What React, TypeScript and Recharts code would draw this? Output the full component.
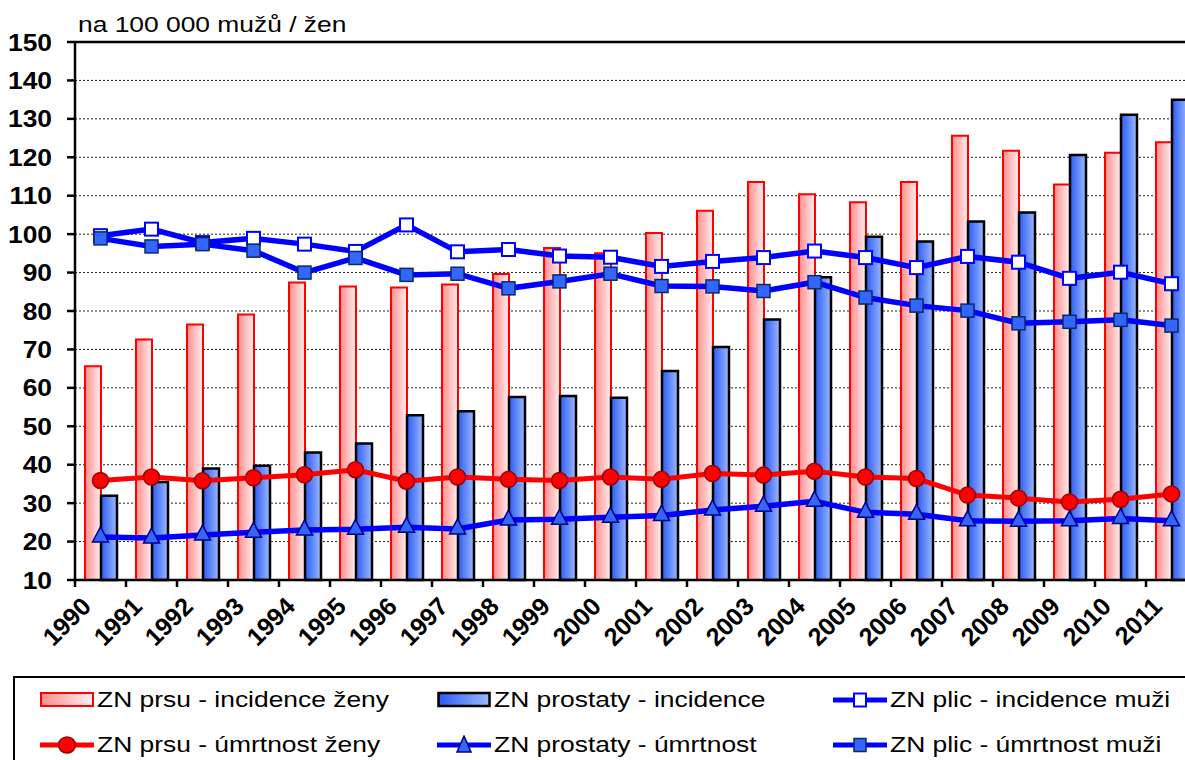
import React from "react";
import { ComposedChart, Bar, Line, XAxis, YAxis, CartesianGrid, Legend, ReferenceLine } from "recharts";

const years = ["1990", "1991", "1992", "1993", "1994", "1995", "1996", "1997", "1998", "1999", "2000", "2001", "2002", "2003", "2004", "2005", "2006", "2007", "2008", "2009", "2010", "2011"];
const prsuIncidence = [65.6, 72.6, 76.5, 79.1, 87.4, 86.4, 86.1, 86.9, 89.6, 96.4, 95.0, 100.3, 106.1, 113.6, 110.4, 108.3, 113.6, 125.6, 121.7, 112.9, 121.2, 123.9];
const prostataIncidence = [31.9, 35.5, 39.0, 39.7, 43.2, 45.5, 52.9, 53.9, 57.6, 57.9, 57.4, 64.4, 70.6, 77.8, 88.8, 99.3, 98.1, 103.3, 105.6, 120.6, 131.1, 135.0];
const plicIncidence = [99.6, 101.3, 97.8, 98.9, 97.4, 95.5, 102.4, 95.4, 96.0, 94.3, 94.0, 91.6, 92.9, 93.9, 95.6, 93.9, 91.3, 94.2, 92.7, 88.5, 90.1, 87.1];
const prsuMortality = [35.9, 36.8, 35.8, 36.6, 37.4, 38.7, 35.7, 36.8, 36.2, 35.9, 36.8, 36.2, 37.7, 37.3, 38.3, 36.8, 36.4, 32.1, 31.3, 30.3, 31.0, 32.4];
const prostataMortality = [21.2, 20.9, 21.7, 22.4, 23.0, 23.2, 23.7, 23.3, 25.6, 25.8, 26.3, 26.8, 28.2, 29.2, 30.5, 27.6, 27.1, 25.4, 25.3, 25.4, 26.0, 25.4];
const plicMortality = [98.9, 96.8, 97.4, 95.7, 90.0, 93.8, 89.4, 89.7, 85.9, 87.7, 89.7, 86.5, 86.4, 85.2, 87.5, 83.5, 81.4, 80.1, 76.8, 77.2, 77.7, 76.2];
const yTicks = [10, 20, 30, 40, 50, 60, 70, 80, 90, 100, 110, 120, 130, 140, 150];

const data = years.map((year, i) => ({
  year,
  prsuInc: prsuIncidence[i],
  prostataInc: prostataIncidence[i],
  plicInc: plicIncidence[i],
  prsuMort: prsuMortality[i],
  prostataMort: prostataMortality[i],
  plicMort: plicMortality[i],
}));

const FONT = "'Liberation Sans', Arial, sans-serif";
const BLUE = "#0000FF";
const RED = "#FF0000";

const WhiteSquare = (p: any) => {
  if (p.cx == null || p.cy == null) return <g key={p.key} />;
  return <rect key={p.key} x={p.cx - 6.5} y={p.cy - 6.5} width={13} height={13} fill="#fff" stroke={BLUE} strokeWidth={2} />;
};
const BlueSquare = (p: any) => {
  if (p.cx == null || p.cy == null) return <g key={p.key} />;
  return <rect key={p.key} x={p.cx - 6.5} y={p.cy - 6.5} width={13} height={13} fill="#3366FF" stroke="#0A2A66" strokeWidth={1.5} />;
};
const RedCircle = (p: any) => {
  if (p.cx == null || p.cy == null) return <g key={p.key} />;
  return <circle key={p.key} cx={p.cx} cy={p.cy} r={8} fill={RED} stroke="#990000" strokeWidth={1.5} />;
};
const BlueTriangle = (p: any) => {
  if (p.cx == null || p.cy == null) return <g key={p.key} />;
  const pts = `${p.cx},${p.cy - 10} ${p.cx - 8},${p.cy + 5} ${p.cx + 8},${p.cy + 5}`;
  return <polygon key={p.key} points={pts} fill="#3366FF" stroke="#000080" strokeWidth={1.5} />;
};

const YTick = (p: any) => {
  const { x, y, payload } = p;
  return (
    <text x={x} y={y} dy="0.355em" textAnchor="end" fontFamily={FONT} fontWeight="bold" fontSize={24} fill="#000"
      transform={`translate(${x},0) scale(1.1,1) translate(${-x},0)`}>
      {payload.value}
    </text>
  );
};

// year label plus the Excel-style tick mark on the category boundary
const XTick = (p: any) => {
  const { x, y, payload, index } = p;
  const half = payload.offset || 0;
  return (
    <g>
      {index === 0 && <line x1={x - half} x2={x - half} y1={y} y2={y + 7} stroke="#000" strokeWidth={2.5} />}
      <line x1={x + half} x2={x + half} y1={y} y2={y + 7} stroke="#000" strokeWidth={2.5} />
      <g transform={`translate(${x - 8},${y + 28})`}>
        <text textAnchor="end" transform="rotate(-45)" fontFamily={FONT} fontWeight="bold" fontSize={25} fill="#000">
          {payload.value}
        </text>
      </g>
    </g>
  );
};

const Title = (p: any) => {
  const vb = p.viewBox || { x: 0, y: 42, width: 75 };
  const x = vb.x + vb.width + 3;
  return (
    <text x={x} y={vb.y - 10} fontFamily={FONT} fontSize={22} fill="#000"
      transform={`translate(${x},0) scale(1.2,1) translate(${-x},0)`}>
      na 100 000 mužů / žen
    </text>
  );
};

const LegendIcon = ({ kind }: { kind: string }) => (
  <svg width={56} height={20} style={{ display: "block", flex: "none" }}>
    <defs>
      <linearGradient id="legPink" x1="0" y1="0" x2="1" y2="0">
        <stop offset="0%" stopColor="#FF8C8C" />
        <stop offset="100%" stopColor="#FFF0F0" />
      </linearGradient>
      <linearGradient id="legBlue" x1="0" y1="0" x2="1" y2="0">
        <stop offset="0%" stopColor="#2B5CF5" />
        <stop offset="100%" stopColor="#9CB8FF" />
      </linearGradient>
    </defs>
    {kind === "pinkBar" && <rect x={1} y={3} width={52} height={13} fill="url(#legPink)" stroke={RED} strokeWidth={2} />}
    {kind === "blueBar" && <rect x={1.5} y={3} width={51} height={13} fill="url(#legBlue)" stroke="#000" strokeWidth={2.5} />}
    {kind !== "pinkBar" && kind !== "blueBar" && (
      <line x1={0} y1={10} x2={54} y2={10} stroke={kind === "redCircle" ? RED : BLUE} strokeWidth={5} />
    )}
    {kind === "whiteSquare" && <rect x={21} y={3.5} width={12} height={13} fill="#fff" stroke={BLUE} strokeWidth={2} />}
    {kind === "blueSquare" && <rect x={21} y={3.5} width={12} height={13} fill="#3366FF" stroke="#0A2A66" strokeWidth={1.5} />}
    {kind === "redCircle" && <ellipse cx={27} cy={10} rx={8.5} ry={8} fill={RED} stroke="#990000" strokeWidth={1.5} />}
    {kind === "blueTriangle" && <polygon points="27,1 20,17 34,17" fill="#3366FF" stroke="#000080" strokeWidth={1.5} />}
  </svg>
);

const legendItems = [
  { kind: "pinkBar", label: "ZN prsu - incidence ženy" },
  { kind: "blueBar", label: "ZN prostaty - incidence" },
  { kind: "whiteSquare", label: "ZN plic - incidence muži" },
  { kind: "redCircle", label: "ZN prsu - úmrtnost ženy" },
  { kind: "blueTriangle", label: "ZN prostaty - úmrtnost" },
  { kind: "blueSquare", label: "ZN plic - úmrtnost muži" },
];

const LegendBox = () => (
  <div style={{
    marginLeft: 13, height: 120, border: "2.5px solid #000", boxSizing: "border-box", paddingLeft: 24.5,
    display: "grid", gridTemplateColumns: "397px 396px 400px", gridAutoRows: "44.5px", background: "#fff",
  }}>
    {legendItems.map((it) => (
      <div key={it.label} style={{ display: "flex", alignItems: "center", whiteSpace: "nowrap" }}>
        <LegendIcon kind={it.kind} />
        <span style={{
          fontFamily: FONT, fontSize: 22, color: "#000", display: "inline-block",
          transform: "scaleX(1.2)", transformOrigin: "left center", marginLeft: 1,
        }}>{it.label}</span>
      </div>
    ))}
  </div>
);

export default function App() {
  return (
    <div style={{ position: "absolute", left: 0, top: 0, width: 1185, height: 760, overflow: "hidden", background: "#fff" }}>
      <ComposedChart width={1200} height={770} data={data} margin={{ top: 42, right: 3, left: 0, bottom: 0 }}
        barCategoryGap={10} barGap={0}>
        <defs>
          <linearGradient id="pinkGrad" x1="0" y1="0" x2="1" y2="0">
            <stop offset="0%" stopColor="#FF8C8C" />
            <stop offset="100%" stopColor="#FFF0F0" />
          </linearGradient>
          <linearGradient id="blueGrad" x1="0" y1="0" x2="1" y2="0">
            <stop offset="0%" stopColor="#2B5CF5" />
            <stop offset="100%" stopColor="#9CB8FF" />
          </linearGradient>
        </defs>
        <CartesianGrid vertical={false} stroke="#222" strokeDasharray="2 2" />
        <XAxis dataKey="year" interval={0} height={96} tickLine={false} tickSize={0} tickMargin={0}
          axisLine={{ stroke: "#000", strokeWidth: 2.5 }} tick={<XTick />} />
        <YAxis domain={[10, 150]} ticks={yTicks} interval={0} width={75} tickSize={8} tickMargin={15}
          axisLine={{ stroke: "#000", strokeWidth: 2.5 }} tickLine={{ stroke: "#000", strokeWidth: 2.5 }}
          tick={<YTick />} label={{ content: <Title /> }} />
        <ReferenceLine y={150} stroke="#000" strokeWidth={2.5} />
        <Bar dataKey="prsuInc" name="ZN prsu - incidence ženy" fill="url(#pinkGrad)" stroke={RED} strokeWidth={2} isAnimationActive={false} />
        <Bar dataKey="prostataInc" name="ZN prostaty - incidence" fill="url(#blueGrad)" stroke="#000" strokeWidth={2.5} isAnimationActive={false} />
        <Line type="linear" dataKey="prsuMort" name="ZN prsu - úmrtnost ženy" stroke={RED} strokeWidth={5} dot={RedCircle} activeDot={false} isAnimationActive={false} />
        <Line type="linear" dataKey="prostataMort" name="ZN prostaty - úmrtnost" stroke={BLUE} strokeWidth={5.5} dot={BlueTriangle} activeDot={false} isAnimationActive={false} />
        <Line type="linear" dataKey="plicInc" name="ZN plic - incidence muži" stroke={BLUE} strokeWidth={5.5} dot={WhiteSquare} activeDot={false} isAnimationActive={false} />
        <Line type="linear" dataKey="plicMort" name="ZN plic - úmrtnost muži" stroke={BLUE} strokeWidth={5.5} dot={BlueSquare} activeDot={false} isAnimationActive={false} />
        <Legend verticalAlign="bottom" height={94} content={<LegendBox />} />
      </ComposedChart>
    </div>
  );
}
